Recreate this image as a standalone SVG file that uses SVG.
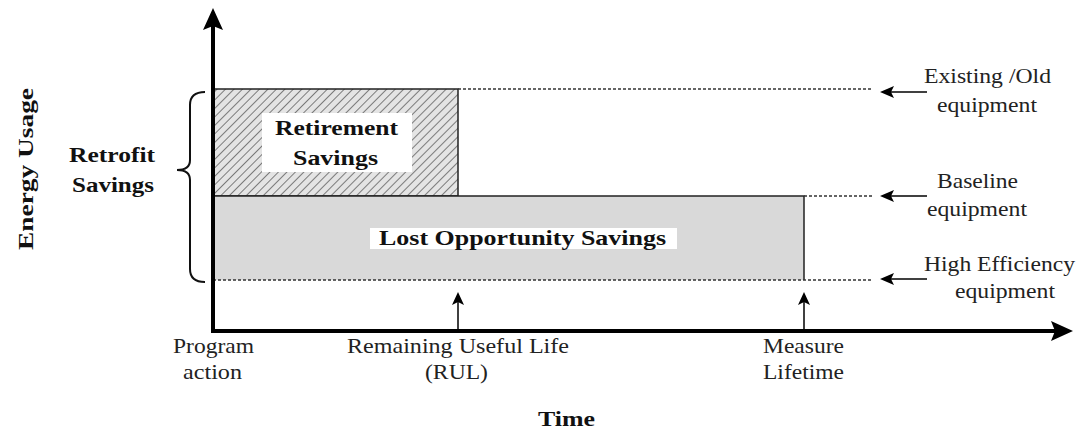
<svg xmlns="http://www.w3.org/2000/svg" width="1080" height="430" viewBox="0 0 1080 430">
<style>
.t{font-family:"Liberation Serif","Times New Roman",serif;font-size:21px;fill:#222}
.b{font-family:"Liberation Serif","Times New Roman",serif;font-size:22px;font-weight:bold;fill:#111}
.dot{stroke:#333;stroke-width:1.5;stroke-dasharray:3 2;fill:none}
.ax{stroke:#000;stroke-width:4;fill:none}
.thin{stroke:#000;stroke-width:1.5;fill:none}
</style>
<defs>
<pattern id="hatch" patternUnits="userSpaceOnUse" width="6" height="6" patternTransform="rotate(45)">
<rect width="6" height="6" fill="#e4e4e4"/>
<line x1="0" y1="0" x2="0" y2="6" stroke="#333" stroke-width="1.2"/>
</pattern>
</defs>
<rect width="1080" height="430" fill="#fff"/>
<g id="retirement">
<rect x="213" y="89" width="245" height="107" fill="url(#hatch)" stroke="#222" stroke-width="1.5"/>
<rect x="262" y="113" width="150" height="59" fill="#fff"/>
<text class="b" x="275" y="135" textLength="123" lengthAdjust="spacingAndGlyphs">Retirement</text>
<text class="b" x="293" y="165" textLength="85" lengthAdjust="spacingAndGlyphs">Savings</text>
</g>
<g id="lost">
<rect x="213" y="196" width="591" height="84" fill="#d9d9d9"/>
<path d="M213,280 L213,196 L804,196 L804,280" fill="none" stroke="#222" stroke-width="1.5"/>
<rect x="370" y="228" width="307" height="21" fill="#fff"/>
<text class="b" x="379" y="245" textLength="287" lengthAdjust="spacingAndGlyphs">Lost Opportunity Savings</text>
</g>
<g id="connectors">
<line class="dot" x1="458" y1="89" x2="873" y2="89"/>
<line class="dot" x1="804" y1="196" x2="873" y2="196"/>
<line class="dot" x1="213" y1="280" x2="873" y2="280"/>
<line class="thin" x1="890" y1="92" x2="927" y2="92"/>
<polygon points="880,92 894,86 891,92 894,98" fill="#000"/>
<line class="thin" x1="890" y1="196" x2="927" y2="196"/>
<polygon points="880,196 894,190 891,196 894,202" fill="#000"/>
<line class="thin" x1="890" y1="279" x2="927" y2="279"/>
<polygon points="880,279 894,273 891,279 894,285" fill="#000"/>
<line class="thin" x1="458" y1="331" x2="458" y2="300"/>
<polygon points="458,292 452,305 458,302 464,305" fill="#000"/>
<line class="thin" x1="804" y1="331" x2="804" y2="300"/>
<polygon points="804,292 798,305 804,302 810,305" fill="#000"/>
<line class="ax" x1="213" y1="333" x2="213" y2="26"/>
<polygon points="213,8 203,30 213,26 223,30" fill="#000"/>
<line class="ax" x1="211" y1="331" x2="1055" y2="331"/>
<polygon points="1073,331 1051,321 1055,331 1051,341" fill="#000"/>
<path d="M205,92 Q190,92 190,105 L190,160 Q190,170 177,170 Q190,170 190,180 L190,269 Q190,282 205,282" fill="none" stroke="#111" stroke-width="2"/>
</g>
<g id="labels">
<text class="b" transform="translate(33,250) rotate(-90)" textLength="162" lengthAdjust="spacingAndGlyphs">Energy Usage</text>
<text class="b" x="69" y="162" textLength="86" lengthAdjust="spacingAndGlyphs">Retrofit</text>
<text class="b" x="72" y="192" textLength="82" lengthAdjust="spacingAndGlyphs">Savings</text>
<text class="t" x="924" y="83" textLength="127" lengthAdjust="spacingAndGlyphs">Existing /Old</text>
<text class="t" x="937" y="112" textLength="100" lengthAdjust="spacingAndGlyphs">equipment</text>
<text class="t" x="937" y="188" textLength="81" lengthAdjust="spacingAndGlyphs">Baseline</text>
<text class="t" x="927" y="216" textLength="100" lengthAdjust="spacingAndGlyphs">equipment</text>
<text class="t" x="924" y="271" textLength="151" lengthAdjust="spacingAndGlyphs">High Efficiency</text>
<text class="t" x="955" y="298" textLength="100" lengthAdjust="spacingAndGlyphs">equipment</text>
<text class="t" x="173" y="353" textLength="81" lengthAdjust="spacingAndGlyphs">Program</text>
<text class="t" x="183" y="379" textLength="59" lengthAdjust="spacingAndGlyphs">action</text>
<text class="t" x="347" y="353" textLength="222" lengthAdjust="spacingAndGlyphs">Remaining Useful Life</text>
<text class="t" x="425" y="379" textLength="63" lengthAdjust="spacingAndGlyphs">(RUL)</text>
<text class="t" x="763" y="353" textLength="81" lengthAdjust="spacingAndGlyphs">Measure</text>
<text class="t" x="763" y="379" textLength="81" lengthAdjust="spacingAndGlyphs">Lifetime</text>
<text class="b" x="538" y="426" textLength="57" lengthAdjust="spacingAndGlyphs">Time</text>
</g>
</svg>
